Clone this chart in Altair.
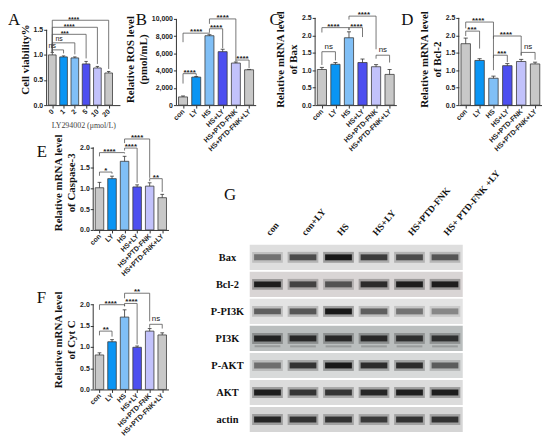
import json
import altair as alt
import pandas as pd

SANS = "Liberation Sans"
SERIF = "Liberation Serif"
INK = "#333333"
W, H = 539, 430  # whole figure drawing area

# ---------------- data ----------------
GROUPS = ["con", "LY", "HS", "HS+LY", "HS+PTD-FNK", "HS+PTD-FNK+LY"]
DOSES = ["0", "1", "2", "5", "10", "20"]
PALETTE = ["#c8c8c8", "#0a95f4", "#80bff6", "#4d4ff0", "#c2c2fb", "#c8c8c8"]

A_VAL = [1.00, 0.96, 0.94, 0.82, 0.74, 0.64]
A_ERR = [0.05, 0.02, 0.02, 0.05, 0.03, 0.03]
# (i, j, height, left bottom, right bottom, label, label x)
A_BR = [(0, 1, 1.10, 1.06, 1.03, "ns", 0.0),
        (0, 2, 1.24, 1.06, 1.01, "ns", 0.6),
        (0, 3, 1.41, 1.06, 0.93, "***", 1.1),
        (0, 4, 1.55, 1.06, 0.82, "****", 1.5),
        (0, 5, 1.69, 1.06, 0.72, "****", 1.9)]

B_VAL = [950, 3250, 8050, 6200, 4880, 4100]
B_ERR = [110, 70, 120, 280, 120, 40]
B_BR = [(0, 1, 3650, 2500, 3400, "****", 0.5),
        (0, 2, 8350, 7300, 8300, "****", 1.0),
        (2, 3, 8860, 8400, 6600, "****", 2.5),
        (2, 4, 10000, 9430, 5230, "****", 3.0),
        (4, 5, 5230, 5050, 4300, "****", 4.5)]

C_VAL = [1.02, 1.17, 1.93, 1.22, 1.10, 0.88]
C_ERR = [0.06, 0.05, 0.17, 0.10, 0.06, 0.14]
C_BR = [(0, 1, 1.53, 1.15, 1.28, "ns", 0.5),
        (0, 2, 2.22, 2.08, 2.15, "****", 0.85),
        (2, 3, 2.22, 2.15, 1.95, "****", 2.55),
        (2, 4, 2.55, 2.45, 1.60, "****", 3.1),
        (4, 5, 1.43, 1.33, 1.22, "ns", 4.5)]

D_VAL = [1.76, 1.28, 0.77, 1.13, 1.25, 1.18]
D_ERR = [0.16, 0.05, 0.06, 0.06, 0.06, 0.05]
D_BR = [(0, 1, 2.12, 1.98, 1.62, "***", 0.45),
        (0, 2, 2.38, 2.20, 1.00, "****", 0.9),
        (2, 4, 1.98, 1.90, 1.42, "****", 2.9),
        (2, 3, 1.43, 1.35, 1.23, "***", 2.6),
        (4, 5, 1.51, 1.42, 1.30, "ns", 4.5)]

E_VAL = [1.02, 1.24, 1.66, 1.04, 1.06, 0.78]
E_ERR = [0.13, 0.06, 0.12, 0.05, 0.08, 0.08]
E_BR = [(0, 1, 1.40, 1.31, 1.36, "*", 0.5),
        (0, 2, 1.87, 1.78, 1.85, "****", 0.8),
        (2, 3, 1.98, 1.92, 1.14, "****", 2.5),
        (2, 4, 2.20, 2.10, 1.26, "****", 3.0),
        (4, 5, 1.24, 1.18, 0.92, "**", 4.5)]

F_VAL = [0.81, 1.12, 1.70, 0.99, 1.37, 1.28]
F_ERR = [0.05, 0.05, 0.17, 0.03, 0.06, 0.05]
F_BR = [(0, 1, 1.37, 1.27, 1.24, "**", 0.5),
        (0, 2, 1.99, 1.87, 1.95, "****", 0.9),
        (2, 3, 2.02, 1.96, 1.06, "****", 2.55),
        (2, 4, 2.26, 2.14, 1.60, "**", 3.0),
        (4, 5, 1.53, 1.45, 1.43, "ns", 4.5)]

PROTEINS = ["Bax", "Bcl-2", "P-PI3K", "PI3K", "P-AKT", "AKT", "actin"]
LANES = ["con", "con+LY", "HS", "HS+LY", "HS+PTD-FNK", "HS+ PTD-FNK +LY"]
BAX = [0.45, 0.65, 1.00, 0.75, 0.65, 0.60]
BCL2 = [0.95, 0.70, 0.60, 0.85, 0.95, 0.95]
PPI3K = [0.55, 0.60, 1.00, 0.55, 0.45, 0.35]
PI3K = [0.90, 0.85, 0.85, 0.85, 0.80, 0.80]
PAKT = [0.45, 0.80, 1.00, 0.85, 0.85, 0.55]
AKT = [0.95, 0.80, 0.80, 0.90, 0.95, 0.95]
ACTIN = [0.90, 0.80, 0.80, 0.75, 0.80, 0.80]
STRIP_COLORS = ["#dedede", "#d9d5d5", "#e3e3e3", "#babebe", "#d8dada", "#dcdcdc", "#d5d5d5"]


def letter_layer(letter, px, py):
    return alt.Chart(pd.DataFrame({"t": [letter]})).mark_text(
        font=SERIF, fontSize=17, align="left", baseline="alphabetic", color="#111"
    ).encode(text="t:N", x=alt.value(px), y=alt.value(py))


def panel(letter, lpos, vals, errs, brackets, xlabels, ymax, yticks, yfmt,
          ytitle, axis_top, xr, yr, xhi=5.5, xtitle=None, sig_size=8):
    df = pd.DataFrame({"i": list(range(len(vals))), "v": vals, "e": errs})
    xs = alt.Scale(domain=[-0.5, xhi], range=[xr[0], xr[1]], nice=False, zero=False)
    ys = alt.Scale(domain=[0, ymax], range=[yr[1], yr[0]], nice=False, zero=False)
    xaxis_kw = dict(orient="bottom", offset=yr[1] - H, values=list(range(len(vals))),
                    labelExpr=json.dumps(xlabels) + "[datum.value]",
                    labelAngle=-45, labelAlign="right", labelBaseline="middle",
                    labelFont=SANS, labelFontSize=7, labelFontWeight="bold",
                    labelPadding=2, labelOverlap=False, labelFlush=False,
                    tickSize=3, grid=False, domainColor=INK,
                    tickColor=INK, labelColor="#222")
    if xtitle:
        xaxis_kw.update(title=xtitle, titleFont=SERIF, titleFontSize=8,
                        titleFontWeight="normal", titleColor="#444", titlePadding=4)
    else:
        xaxis_kw.update(title=None)
    xaxis = alt.Axis(**xaxis_kw)
    yaxis = alt.Axis(orient="left", offset=-xr[0], values=yticks, format=yfmt,
                     domain=False, grid=False, labelOverlap=False, labelFlush=False,
                     tickSize=3, tickColor=INK, labelFont=SANS, labelFontSize=7,
                     labelFontWeight="bold", labelColor="#222", labelPadding=1,
                     title=ytitle, titleFont=SERIF, titleFontSize=11,
                     titleFontWeight="bold", titleColor="#111", titlePadding=3,
                     titleLineHeight=13)
    base = alt.Chart(df).transform_calculate(
        lo="datum.i - 0.34", hi="datum.i + 0.34", top="datum.v + datum.e",
        clo="datum.i - 0.15", chi="datum.i + 0.15", zero="0")
    bars = base.mark_rect(stroke="#3a3a3a", strokeWidth=0.8).encode(
        x=alt.X("lo:Q", scale=xs, axis=xaxis),
        x2="hi:Q",
        y=alt.Y("v:Q", scale=ys, axis=yaxis),
        y2="zero:Q",
        color=alt.Color("i:N", scale=alt.Scale(domain=list(range(6)), range=PALETTE), legend=None))
    stem = base.mark_rule(color=INK, strokeWidth=0.8).encode(
        x=alt.X("i:Q", scale=xs, axis=None), y=alt.Y("v:Q", scale=ys, axis=None), y2="top:Q")
    cap = base.mark_rule(color=INK, strokeWidth=0.8).encode(
        x=alt.X("clo:Q", scale=xs, axis=None), x2="chi:Q", y=alt.Y("top:Q", scale=ys, axis=None))
    bdf = pd.DataFrame(brackets, columns=["i", "j", "h", "lb", "rb", "lab", "lx"])
    bb = alt.Chart(bdf)
    hz = bb.mark_rule(color="#555", strokeWidth=0.8).encode(
        x=alt.X("i:Q", scale=xs, axis=None), x2="j:Q", y=alt.Y("h:Q", scale=ys, axis=None))
    lv = bb.mark_rule(color="#555", strokeWidth=0.8).encode(
        x=alt.X("i:Q", scale=xs, axis=None), y=alt.Y("lb:Q", scale=ys, axis=None), y2="h:Q")
    rv = bb.mark_rule(color="#555", strokeWidth=0.8).encode(
        x=alt.X("j:Q", scale=xs, axis=None), y=alt.Y("rb:Q", scale=ys, axis=None), y2="h:Q")
    stars = bb.transform_filter("datum.lab != 'ns'").mark_text(
        font=SANS, fontSize=sig_size, fontWeight="bold", baseline="bottom", dy=3, color="#222"
    ).encode(x=alt.X("lx:Q", scale=xs, axis=None), y=alt.Y("h:Q", scale=ys, axis=None),
             text="lab:N")
    ns = bb.transform_filter("datum.lab == 'ns'").mark_text(
        font=SANS, fontSize=sig_size, baseline="bottom", dy=-1, color="#222"
    ).encode(x=alt.X("lx:Q", scale=xs, axis=None), y=alt.Y("h:Q", scale=ys, axis=None),
             text="lab:N")
    yline = alt.Chart(pd.DataFrame({"a": [0]})).mark_rule(color=INK, strokeWidth=1).encode(
        x=alt.X(datum=-0.5, scale=xs, axis=None), y=alt.Y(datum=0, scale=ys, axis=None),
        y2=alt.datum(axis_top))
    return [bars, stem, cap, hz, lv, rv, stars, ns, yline,
            letter_layer(letter, lpos[0], lpos[1])]


# plot-area rectangles (x range, y range) inside the figure
A = panel("A", (0, 13), A_VAL, A_ERR, A_BR, DOSES, 1.835, [0, 0.5, 1.0, 1.5], ".1f",
          "Cell viability%", 1.5, (39, 113), (1, 94), xhi=6.0,
          xtitle="LY294002 (\u03bcmol/L)", sig_size=7)
B = panel("B", (129, 13), B_VAL, B_ERR, B_BR, GROUPS, 10690,
          [0, 2000, 4000, 6000, 8000, 10000], ",d",
          ["Relative ROS level", "(pmol/mL)"], 10000, (170, 250), (1, 94))
C = panel("C", (264, 13), C_VAL, C_ERR, C_BR, GROUPS, 2.64, [0, 0.5, 1.0, 1.5, 2.0, 2.5], ".1f",
          ["Relative mRNA level", "of Bax"], 2.5, (310, 392), (1, 94))
D = panel("D", (397, 13), D_VAL, D_ERR, D_BR, GROUPS, 2.64, [0, 0.5, 1.0, 1.5, 2.0, 2.5], ".1f",
          ["Relative mRNA level", "of Bcl-2"], 2.5, (455, 539), (1, 94))
E = panel("E", (29, 146), E_VAL, E_ERR, E_BR, GROUPS, 2.3, [0, 0.5, 1.0, 1.5, 2.0], ".1f",
          ["Relative mRNA level", "of Caspase-3"], 2.0, (86, 162), (124, 220))
F = panel("F", (29, 294), F_VAL, F_ERR, F_BR, GROUPS, 2.35, [0, 0.5, 1.0, 1.5, 2.0], ".1f",
          ["Relative mRNA level", "of Cyt C"], 2.0, (86, 162), (280, 381))

# ---------------- western blot panel ----------------
rows = []
for pi, (p, vals) in enumerate(zip(PROTEINS, [BAX, BCL2, PPI3K, PI3K, PAKT, AKT, ACTIN])):
    for k, v in enumerate(vals):
        rows.append({"protein": p, "row": pi, "lane": k, "inten": v})
gdf = pd.DataFrame(rows)
sdf = pd.DataFrame({"protein": PROTEINS, "row": list(range(len(PROTEINS)))})
GX, GY = (244, 459), (234, 425)
gx = alt.Scale(domain=[-0.5, 5.5], range=[GX[0], GX[1]], nice=False, zero=False)
gy = alt.Scale(domain=[-0.5, 6.5], range=[GY[0], GY[1]], nice=False, zero=False)
gxaxis = alt.Axis(orient="top", offset=-GY[0], values=list(range(6)),
                  labelExpr=json.dumps(LANES) + "[datum.value]",
                  labelAngle=-50, labelAlign="left", labelBaseline="middle", domain=False,
                  ticks=False, grid=False, labelPadding=10, labelFont=SERIF,
                  labelOverlap=False, labelFlush=False,
                  labelFontWeight="bold", labelFontSize=9.5, labelColor="#111", title=None)
gyaxis = alt.Axis(orient="left", offset=-GX[0], values=list(range(7)),
                  labelExpr=json.dumps(PROTEINS) + "[datum.value]",
                  domain=False, ticks=False, grid=False, labelFont=SERIF,
                  labelOverlap=False, labelFlush=False, labelBaseline="middle",
                  labelFontWeight="bold", labelFontSize=10.5, labelColor="#111",
                  labelAlign="center", labelPadding=23, title=None)
strips = alt.Chart(sdf).transform_calculate(
    r0="datum.row - 0.465", r1="datum.row + 0.465").mark_rect().encode(
    x=alt.X(datum=-0.5, scale=gx, axis=gxaxis), x2=alt.datum(5.5),
    y=alt.Y("r0:Q", scale=gy, axis=gyaxis), y2="r1:Q",
    color=alt.Color("protein:N", scale=alt.Scale(domain=PROTEINS, range=STRIP_COLORS), legend=None))
halo = alt.Chart(gdf).transform_calculate(ho="datum.inten * 0.35").mark_tick(
    orient="horizontal", size=31, thickness=11, color="#222").encode(
    x=alt.X("lane:Q", scale=gx, axis=None), y=alt.Y("row:Q", scale=gy, axis=None),
    opacity=alt.Opacity("ho:Q", scale=alt.Scale(domain=[0, 1], range=[0, 1]), legend=None))
bands = alt.Chart(gdf).mark_tick(orient="horizontal", size=27, thickness=6, color="#111").encode(
    x=alt.X("lane:Q", scale=gx, axis=None), y=alt.Y("row:Q", scale=gy, axis=None),
    opacity=alt.Opacity("inten:Q", scale=alt.Scale(domain=[0, 1], range=[0.05, 0.95]), legend=None))
sub = alt.Chart(gdf).transform_filter("datum.protein == 'PI3K'").mark_tick(
    orient="horizontal", size=26, thickness=2, color="#333", yOffset=8, opacity=0.25).encode(
    x=alt.X("lane:Q", scale=gx, axis=None), y=alt.Y("row:Q", scale=gy, axis=None))
G = [strips, halo, bands, sub, letter_layer("G", 218, 190)]

layers = A + B + C + D + E + F + G
chart = alt.layer(*layers).resolve_scale(
    x="independent", y="independent", color="independent", opacity="independent"
).resolve_axis(x="independent", y="independent").properties(
    width=W, height=H, padding=0, background="white").configure_view(stroke=None)

chart.save("out.html", embed_options={"renderer": "svg", "actions": False})
